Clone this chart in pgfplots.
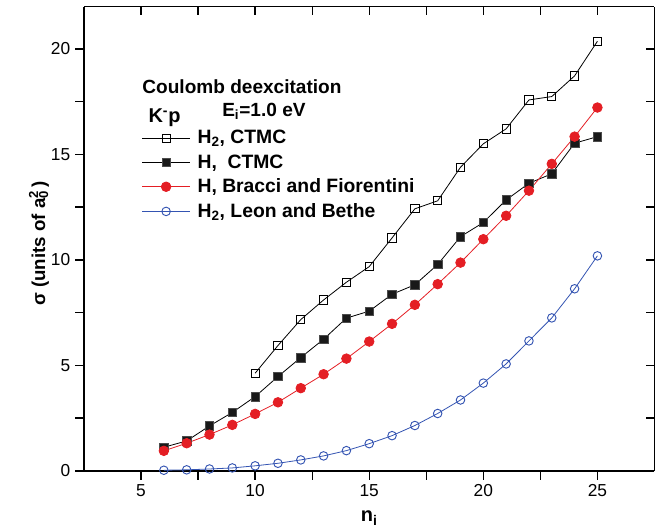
\documentclass[border=0pt]{standalone}
\usepackage{pgfplots}
\pgfplotsset{compat=1.18}
\usepackage{fontspec}
\setmainfont{Liberation Sans}
\definecolor{myred}{RGB}{228,30,36}
\definecolor{myblue}{RGB}{52,84,178}
\begin{document}
\begin{tikzpicture}
\pgfplotsset{
  common/.style={
    scale only axis,
    width=427.9pt, height=348.2pt,
    xmin=2.5, xmax=27.5, ymin=0, ymax=22,
    xtick={5,10,15,20,25}, ytick={0,5,10,15,20},
    minor x tick num=1, minor y tick num=1,
    major tick length=6.5pt, minor tick length=6.5pt,
    every axis/.append style={line width=1pt},
    every tick/.style={line width=1pt, black},
    /pgf/number format/assume math mode=true,
  }
}
\begin{axis}[common, name=ax,
  axis x line*=bottom, axis y line*=left,
  tick align=outside,
  ticklabel style={font=\fontsize{13}{15}\selectfont},
  xlabel={n\textsubscript{i}},
  xlabel style={font=\bfseries\fontsize{15}{17}\selectfont, at={(axis description cs:0.5,-0.11)}, anchor=base},
  ylabel={σ (units of a\rlap{\textsubscript{0}}\textsuperscript{2}\,)},
  ylabel style={font=\bfseries\fontsize{14}{16}\selectfont, at={(axis description cs:-0.068,0.49)}, anchor=base, rotate=0},
  legend cell align=left,
  legend style={at={(rel axis cs:0.100,0.740)}, anchor=north west, draw=none, fill=none,
    inner sep=0pt, row sep=2.9pt,
    font=\bfseries\fontsize{14.5}{16}\selectfont,
    nodes={inner sep=1.8pt},
    /tikz/every odd column/.append style={column sep=3.5pt}},
  legend image code/.code={\draw[mark repeat=2,mark phase=2,#1] plot coordinates {(0pt,0pt) (18pt,0pt) (36pt,0pt)};},
]
\addplot[black, line width=0.6pt, mark=square, mark size=3.1pt, mark options={fill=white, line width=0.7pt}] coordinates {
(10,4.63) (11,5.94) (12,7.17) (13,8.10) (14,8.94) (15,9.68) (16,11.04) (17,12.42) (18,12.80) (19,14.39) (20,15.50) (21,16.21) (22,17.58) (23,17.74) (24,18.72) (25,20.36)};
\addlegendentry{H\textsubscript{2}, CTMC}
\addplot[black, line width=0.6pt, mark=square*, mark size=3.2pt, mark options={fill=black!90, draw=black!70, line width=0.5pt}] coordinates {
(6,1.12) (7,1.42) (8,2.13) (9,2.77) (10,3.52) (11,4.47) (12,5.37) (13,6.24) (14,7.24) (15,7.57) (16,8.37) (17,8.82) (18,9.78) (19,11.10) (20,11.77) (21,12.84) (22,13.63) (23,14.08) (24,15.53) (25,15.84)};
\addlegendentry{H,\ \ CTMC}
\addplot[myred, line width=0.6pt, mark=*, mark size=3.6pt, mark options={fill=myred, draw=myred}] coordinates {
(6,0.95) (7,1.31) (8,1.72) (9,2.18) (10,2.70) (11,3.25) (12,3.92) (13,4.58) (14,5.32) (15,6.13) (16,6.97) (17,7.87) (18,8.85) (19,9.87) (20,10.98) (21,12.09) (22,13.28) (23,14.55) (24,15.84) (25,17.22)};
\addlegendentry{H, Bracci and Fiorentini}
\addplot[myblue, line width=0.6pt, mark=o, mark size=3.2pt, mark options={fill=white, line width=0.7pt}] coordinates {
(6,0.03) (7,0.05) (8,0.09) (9,0.14) (10,0.24) (11,0.36) (12,0.52) (13,0.71) (14,0.96) (15,1.29) (16,1.67) (17,2.15) (18,2.72) (19,3.36) (20,4.16) (21,5.07) (22,6.16) (23,7.25) (24,8.63) (25,10.19)};
\addlegendentry{H\textsubscript{2}, Leon and Bethe}
\node[anchor=base west, inner sep=0pt, font=\bfseries\fontsize{14.3}{16}\selectfont] at (axis cs:5.03,17.9) {Coulomb deexcitation};
\node[anchor=base west, inner sep=0pt, font=\bfseries\fontsize{15}{16}\selectfont] at (axis cs:5.30,16.49) {K\textsuperscript{-}p};
\node[anchor=base west, inner sep=0pt, font=\bfseries\fontsize{14.3}{16}\selectfont] at (axis cs:8.53,16.79) {E\textsubscript{i}=1.0 eV};
\end{axis}
\begin{axis}[common,
  axis x line*=top, axis y line*=right,
  tick align=inside,
  xticklabels={}, yticklabels={},
]
\end{axis}
\pgfresetboundingbox
\path[use as bounding box] ([xshift=-63pt,yshift=-45.75pt]ax.south west) rectangle ([xshift=4.9pt,yshift=5pt]ax.north east);
\end{tikzpicture}
\end{document}
